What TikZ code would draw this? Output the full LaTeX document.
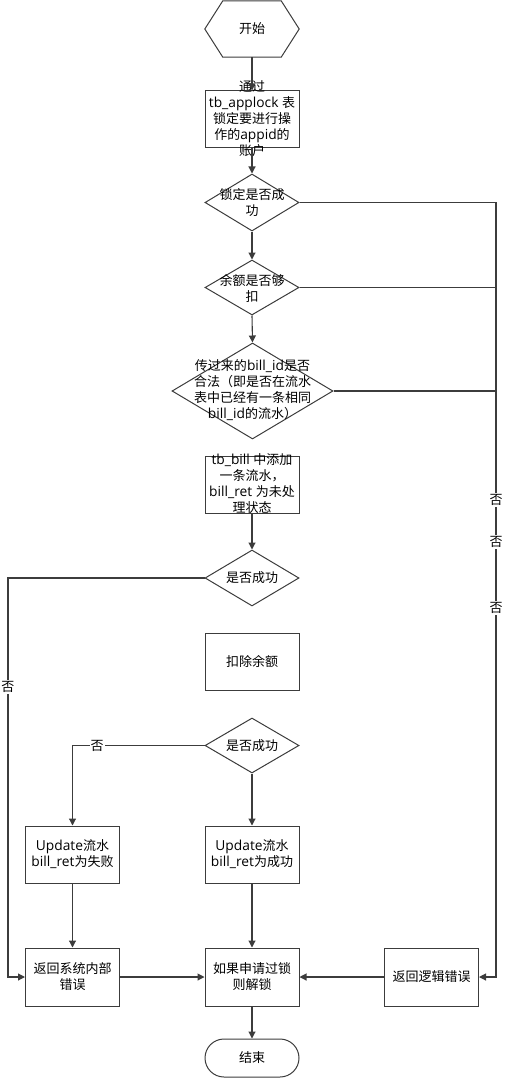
\documentclass[tikz,border=0pt]{standalone}
\usepackage{fontspec}
\setmainfont{Open Sans}[Scale=1.06]
\newfontfamily\cjkf{Noto Sans CJK SC}
\newfontfamily\latf{Open Sans}[Scale=1.06]
\usetikzlibrary{shapes.geometric,arrows.meta}
% automatic switching between Latin and CJK fonts
\XeTeXinterchartokenstate=1
\newXeTeXintercharclass\mycjkclass
\newcount\mycnt
\mycnt="4E00
\loop \XeTeXcharclass\mycnt=\mycjkclass \ifnum\mycnt<"9FFF \advance\mycnt 1 \repeat
\mycnt="3000
\loop \XeTeXcharclass\mycnt=\mycjkclass \ifnum\mycnt<"303F \advance\mycnt 1 \repeat
\mycnt="FF00
\loop \XeTeXcharclass\mycnt=\mycjkclass \ifnum\mycnt<"FFEF \advance\mycnt 1 \repeat
\XeTeXinterchartoks 0 \mycjkclass = {\cjkf}
\XeTeXinterchartoks 4095 \mycjkclass = {\cjkf}
\XeTeXinterchartoks \mycjkclass 0 = {\latf}
\XeTeXinterchartoks 4095 0 = {\latf}
\newcommand\myfs{\fontsize{13}{16}\selectfont}
\definecolor{lc}{HTML}{3C3C3C}
\begin{document}
\begin{tikzpicture}[x=1pt,y=-1pt,
  ln/.style={draw=lc, line width=1.1pt},
  arr/.style={ln, -{Triangle[length=7pt,width=7pt]}},
  box/.style={draw=lc, line width=1pt, minimum width=94pt, minimum height=57pt, inner sep=0pt, align=center, font=\myfs},
  dia/.style={diamond, draw=lc, line width=1pt, inner sep=0pt},
  txt/.style={align=center, font=\myfs, inner sep=0pt},
  nolab/.style={fill=white, inner sep=1pt, font=\myfs}]
\useasboundingbox (0,0) rectangle (504,1078);
% start hexagon
\node[txt, minimum width=94pt, minimum height=56pt] (start) at (252,29) {开始};
\draw[draw=lc, line width=1pt] (start.west) -- ([xshift=18pt]start.north west) -- ([xshift=-18pt]start.north east)
  -- (start.east) -- ([xshift=-18pt]start.south east) -- ([xshift=18pt]start.south west) -- cycle;
% box 1 with overflowing text
\node[box] (box1) at (252,119.5) {};
\node[txt] (box1t) at (252,119) {通过\\tb\_applock 表\\锁定要进行操\\作的appid的\\账户};
% diamonds 1-3
\node[dia, minimum width=94pt, minimum height=57pt] (d1) at (252,202.5) {};
\node[txt] (d1t) at (252,203) {锁定是否成\\功};
\node[dia, minimum width=94pt, minimum height=55pt] (d2) at (252,287.5) {};
\node[txt] (d2t) at (252,288) {余额是否够\\扣};
\node[dia, minimum width=161pt, minimum height=96pt] (d3) at (252.5,391) {};
\node[txt] (d3t) at (252.5,390) {传过来的bill\_id是否\\合法（即是否在流水\\表中已经有一条相同\\bill\_id的流水）};
% box 2
\node[box] (box2) at (252,484.5) {};
\node[txt] (box2t) at (252,484) {tb\_bill 中添加\\一条流水，\\bill\_ret 为未处\\理状态};
% diamond 4
\node[dia, minimum width=94pt, minimum height=56pt] (d4) at (252,578) {};
\node[txt] (d4t) at (252,578) {是否成功};
% deduct
\node[box] (deduct) at (252,661.5) {扣除余额};
% diamond 5
\node[dia, minimum width=94pt, minimum height=55pt] (d5) at (252,745.5) {};
\node[txt] (d5t) at (252,745.5) {是否成功};
% update boxes
\node[box] (fail) at (72.5,854.5) {Update流水\\bill\_ret为失败};
\node[box] (succ) at (252,854.5) {Update流水\\bill\_ret为成功};
% bottom row
\node[box, minimum height=58pt] (sys) at (72.5,977) {返回系统内部\\错误};
\node[box, minimum height=58pt] (unlock) at (252,977) {如果申请过锁\\则解锁};
\node[box, minimum height=58pt] (logic) at (431.5,977) {返回逻辑错误};
\node[draw=lc, line width=1pt, rounded corners=19pt, minimum width=94pt, minimum height=38pt, font=\myfs] (end) at (252,1058) {结束};
% helper coordinates
\coordinate (rt) at (496,977);
\coordinate (lt) at (8,977);
% main column
\draw[arr] (start.south) -- (box1.north);
\draw[arr] (box1.south) -- (d1.north);
\draw[arr] (d1.south) -- (d2.north);
\draw[arr] (d2.south) -- (d3.north);
\draw[arr] (box2.south) -- (d4.north);
\draw[arr] (d5.south) -- (succ.north);
\draw[arr] (fail.south) -- (sys.north);
\draw[arr] (succ.south) -- (unlock.north);
\draw[arr] (sys.east) -- (unlock.west);
\draw[arr] (logic.west) -- (unlock.east);
\draw[arr] (unlock.south) -- (end.north);
% right "no" branches
\draw[arr] (d1.east) -| (rt) -- (logic.east);
\draw[ln] (d2.east) -| (rt);
\draw[ln] (d3.east) -| (rt);
\node[nolab] (no1) at (496,500) {否};
\node[nolab] (no2) at (496,542) {否};
\node[nolab] (no3) at (496,608) {否};
% left "no" branches
\draw[arr] (d4.west) -| (lt) -- (sys.west);
\node[nolab] (no4) at (8,687) {否};
\draw[arr] (d5.west) -| (fail.north);
\node[nolab] (no5) at (97,746) {否};
\end{tikzpicture}
\end{document}
